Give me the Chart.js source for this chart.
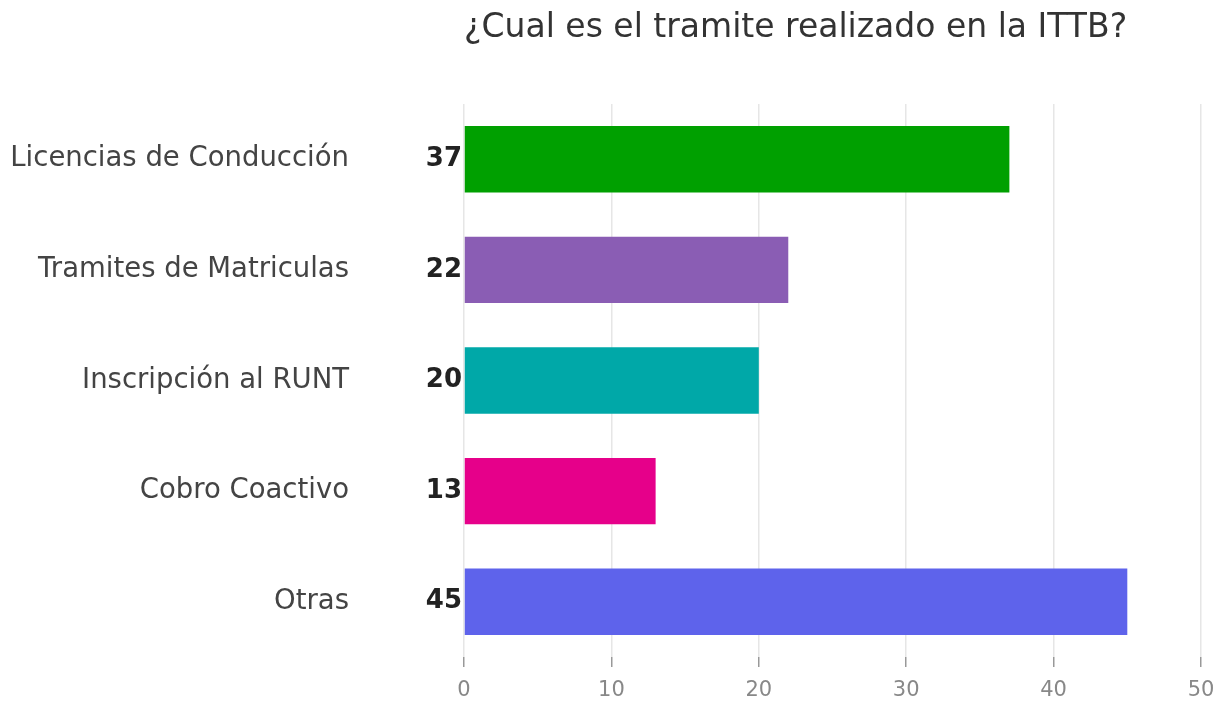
<!DOCTYPE html>
<html>
<head>
<meta charset="utf-8">
<script src="https://cdn.jsdelivr.net/npm/chart.js@4/dist/chart.umd.min.js"></script>
<style>
  html, body { margin: 0; padding: 0; background: #fff; overflow: hidden; }
  canvas { display: block; }
</style>
</head>
<body>
<canvas id="myChart" width="1222" height="701"></canvas>
<script>
var chartTitle = '¿Cual es el tramite realizado en la ITTB?';
var categories = ['Licencias de Conducción', 'Tramites de Matriculas', 'Inscripción al RUNT', 'Cobro Coactivo', 'Otras'];
var counts = [37, 22, 20, 13, 45];
var barColors = ['#00a000', '#8a5db4', '#00a8a8', '#e6008a', '#5e63eb'];
var xTicks = [0, 10, 20, 30, 40, 50];

var font = "'DejaVu Sans', sans-serif";

// title is left aligned on the plot area, not the canvas
var titlePlugin = {
    id: 'titleLeft',
    afterDraw: function(chart) {
        var c = chart.ctx;
        c.save();
        c.font = '33px ' + font;
        c.fillStyle = '#333333';
        c.textAlign = 'left';
        c.textBaseline = 'middle';
        c.fillText(chartTitle, chart.chartArea.left, 28);
        c.restore();
    }
};

// bold counts just left of each bar
var valuePlugin = {
    id: 'values',
    afterDatasetsDraw: function(chart) {
        var c = chart.ctx;
        var meta = chart.getDatasetMeta(0);
        c.save();
        c.font = 'bold 26px ' + font;
        c.fillStyle = '#222222';
        c.textAlign = 'right';
        c.textBaseline = 'middle';
        meta.data.forEach(function(bar, i) {
            c.fillText(String(counts[i]), chart.chartArea.left - 2, bar.y);
        });
        c.restore();
    }
};

var ctx = document.getElementById('myChart').getContext('2d');
var myChart = new Chart(ctx, {
    type: 'bar',
    data: {
        labels: categories,
        datasets: [{
            data: counts,
            backgroundColor: barColors,
            borderWidth: 0,
            barPercentage: 0.6,
            categoryPercentage: 1
        }]
    },
    options: {
        indexAxis: 'y',
        responsive: false,
        animation: false,
        layout: { padding: { top: 104, right: 21, left: 0, bottom: 0 } },
        plugins: {
            legend: { display: false },
            title: { display: false },
            tooltip: { enabled: false }
        },
        scales: {
            x: {
                min: 0,
                max: 50,
                afterBuildTicks: function(scale) {
                    scale.ticks = xTicks.map(function(v) { return { value: v }; });
                },
                afterFit: function(scale) {
                    scale.height = 44;
                    scale.paddingLeft = 0;
                    scale.paddingRight = 0;
                },
                grid: {
                    color: '#e6e6e6',
                    lineWidth: 1.5,
                    tickColor: '#999999',
                    tickLength: 10
                },
                border: { display: false },
                ticks: {
                    color: '#888888',
                    font: { family: font, size: 21 },
                    padding: 11
                }
            },
            y: {
                afterFit: function(scale) {
                    scale.width = 464;
                    scale.paddingTop = 0;
                    scale.paddingBottom = 0;
                },
                grid: { display: false },
                border: { display: false },
                ticks: {
                    color: '#444444',
                    font: { family: font, size: 27.5 },
                    padding: 107
                }
            }
        }
    },
    plugins: [titlePlugin, valuePlugin]
});
</script>
</body>
</html>
